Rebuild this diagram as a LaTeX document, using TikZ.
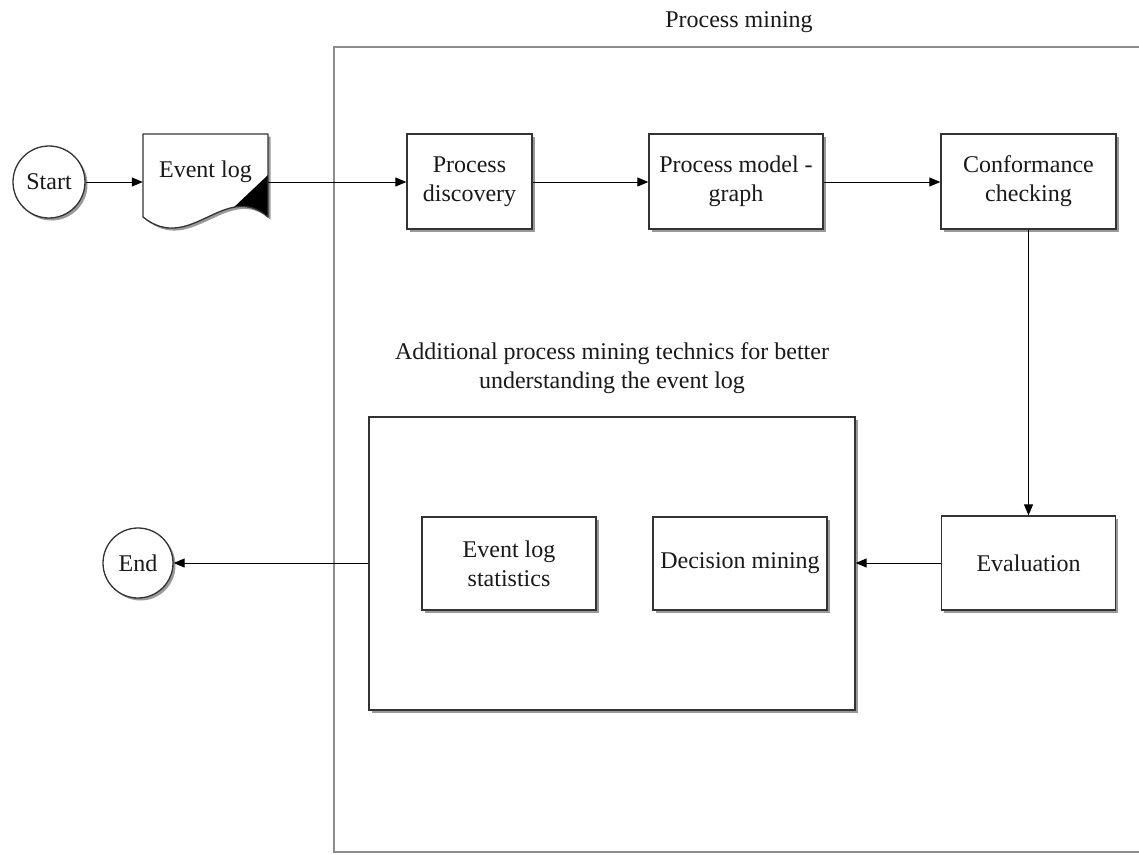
\documentclass[tikz,border=0pt]{standalone}
\usepackage{fontspec}
\setmainfont{Liberation Serif}
\usetikzlibrary{arrows.meta,shadows,calc}
\begin{document}
\begin{tikzpicture}[x=1pt,y=-1pt,
  every node/.style={font=\fontsize{24}{29}\selectfont, text=black!90},
  shade3/.style={drop shadow={shadow xshift=2.5pt,shadow yshift=-2.5pt,fill=black,opacity=0.4}},
  procbox/.style={draw=black!80, line width=1.3pt, fill=white, shade3, align=center,
                  minimum height=95pt, inner sep=0pt},
  terminal/.style={circle, draw=black!80, line width=1.3pt, fill=white, shade3, inner sep=0pt},
  arr/.style={draw=black, line width=1pt, -{Triangle[length=11pt,width=9pt]}}
]
\useasboundingbox (0,0) rectangle (1139,854);

% group frame of the mining stage, open to the right and bottom
\draw[black!45, line width=1.6pt] (1145,47) -- (334,47) -- (334,852) -- (1145,852);
\node (title) at (739,22) {Process mining};

% terminals
\node[terminal, minimum size=72pt] (start) at (49,182) {Start};
\node[terminal, minimum size=70pt] (end) at (138,563) {End};

% event log document shape
\node[minimum width=125pt, minimum height=83pt, inner sep=0pt] (logbox) at (205.5,175.5) {};
\path[fill=black, opacity=0.4]
  ($(143,134)+(2.5,2.5)$) -- ($(268,134)+(2.5,2.5)$) -- ($(268,217)+(2.5,2.5)$)
  .. controls ($(225,180)+(2.5,2.5)$) and ($(190,255)+(2.5,2.5)$) .. ($(143,217)+(2.5,2.5)$) -- cycle;
\path[fill=white] (143,134) -- (268,134) -- (268,217)
  .. controls (225,180) and (190,255) .. (143,217) -- cycle;
\begin{scope}
  \clip (143,134) -- (268,134) -- (268,217)
    .. controls (225,180) and (190,255) .. (143,217) -- cycle;
  \fill[black] (268,175) -- (214,226) -- (214,240) -- (275,240) -- (275,175) -- cycle;
\end{scope}
\draw[black!80, line width=1.3pt, line join=round] (143,134) -- (268,134) -- (268,217)
  .. controls (225,180) and (190,255) .. (143,217) -- cycle;
\node (logtext) at (205.5,172) {Event log};

% main process steps
\node[procbox, minimum width=125pt] (disc) at (469.5,181.5) {Process\\discovery};
\node[procbox, minimum width=174pt] (model) at (736,181.5) {Process model -\\graph};
\node[procbox, minimum width=175pt] (conf) at (1028.5,181.5) {Conformance\\checking};
\node[procbox, minimum width=174pt, minimum height=94pt] (eval) at (1028.5,563) {Evaluation};

% additional techniques group
\node[procbox, minimum width=486pt, minimum height=293pt] (extra) at (612,563.5) {};
\node[align=center] (extratitle) at (612,368)
  {Additional process mining technics for better\\understanding the event log};
\node[procbox, minimum width=174pt, minimum height=93pt] (stats) at (509,563.5) {Event log\\statistics};
\node[procbox, minimum width=174pt, minimum height=93pt] (dec) at (740,563.5) {\raisebox{-2pt}{Decision mining}};

% connectors
\draw[arr] (start.east) -- (start.east -| logbox.west);
\draw[arr] (start.east -| logbox.east) -- (start.east -| disc.west);
\draw[arr] (start.east -| disc.east) -- (start.east -| model.west);
\draw[arr] (start.east -| model.east) -- (start.east -| conf.west);
\draw[arr] (conf.south) -- (conf.south |- eval.north);
\draw[arr] (eval.west) -- (eval.west -| extra.east);
\draw[arr] (extra.west |- end.east) -- (end.east);
\end{tikzpicture}
\end{document}
